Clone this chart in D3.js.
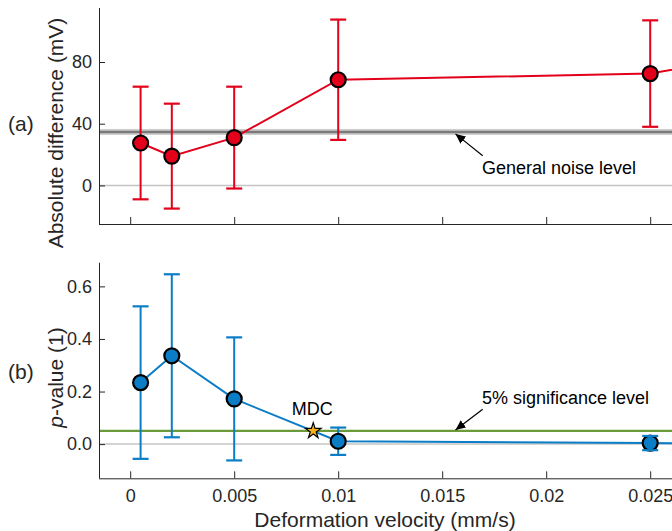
<!DOCTYPE html>
<html>
<head>
<meta charset="utf-8">
<script src="https://cdn.jsdelivr.net/npm/d3@7"></script>
<style>
  html, body { margin: 0; padding: 0; background: #fff; }
  svg { display: block; font-family: "Liberation Sans", Arial, Helvetica, sans-serif; }
  .axis path, .axis line { stroke: #262626; stroke-width: 1; }
  .axis text { fill: #262626; font-size: 18px; }
</style>
</head>
<body>
<div id="chart"></div>
<script>
  // Deformation velocity (mm/s); the last point sits just past the visible edge
  const velocity = [0.0005, 0.002, 0.005, 0.01, 0.025, 0.03];
  // (a) absolute difference (mV) with error half-widths
  const absDiff = [27.5, 19, 31, 68.5, 72.5, 84];
  const absErr = [36.5, 34, 33, 39, 34.5, 34];
  // (b) p-value with error half-widths
  const pValue = [0.234, 0.336, 0.172, 0.011, 0.004, 0.002];
  const pErr = [0.29, 0.31, 0.234, 0.052, 0.027, 0.02];

  const xTicks = [0, 0.005, 0.01, 0.015, 0.02, 0.025];
  const absTicks = [0, 40, 80];
  const pTicks = [0, 0.2, 0.4, 0.6];

  const noiseLevel = 34.7;
  const noiseBand = [32.7, 36.6];
  const significance = 0.05;
  const mdc = { v: 0.0088, p: 0.05 };

  const W = 672, H = 531;
  const ink = '#262626';
  const red = '#e2001a';
  const blue = '#0b7cc6';
  const green = '#6b9a3b';

  const svg = d3.select('#chart').append('svg')
    .attr('width', W).attr('height', H);

  const x = d3.scaleLinear().domain([-0.0015, 0.032]).range([99, 795.8]);
  const xFmt = (d) => (d === 0 ? '0' : String(+d.toFixed(3)));

  function panel(opts) {
    const y = d3.scaleLinear().domain(opts.yDomain).range(opts.yRange);
    const g = svg.append('g');
    const [yb, yt] = opts.yRange;

    // zero reference line
    g.append('line')
      .attr('x1', x.range()[0]).attr('x2', x.range()[1])
      .attr('y1', y(0)).attr('y2', y(0))
      .attr('stroke', '#c4c4c4').attr('stroke-width', 1.5);

    if (opts.before) opts.before(g, y);

    // axes, ticks pointing inward
    g.append('g').attr('class', 'axis')
      .attr('transform', `translate(0,${yb})`)
      .call(d3.axisBottom(x).tickValues(xTicks).tickSize(-7).tickPadding(11)
        .tickFormat(opts.xLabels ? xFmt : () => ''))
      .call((a) => a.select('.domain').attr('d', `M${x.range()[0]},0.5H${W + 50}`));

    g.append('g').attr('class', 'axis')
      .attr('transform', `translate(${x.range()[0]},0)`)
      .call(d3.axisLeft(y).tickValues(opts.yTicks).tickSize(-6).tickPadding(7)
        .tickFormat(opts.yFmt))
      .call((a) => a.select('.domain').attr('d', `M0.5,${yt}V${yb}`));

    const color = opts.color;
    const vals = opts.values, errs = opts.errors;

    // error bar stems
    g.append('g').selectAll('line').data(velocity).join('line')
      .attr('x1', (d) => x(d)).attr('x2', (d) => x(d))
      .attr('y1', (d, i) => y(vals[i] + errs[i]))
      .attr('y2', (d, i) => y(vals[i] - errs[i]))
      .attr('stroke', color).attr('stroke-width', 2);

    // connecting line
    g.append('path')
      .datum(velocity)
      .attr('d', d3.line().x((d) => x(d)).y((d, i) => y(vals[i])))
      .attr('fill', 'none').attr('stroke', color).attr('stroke-width', 2);

    if (opts.after) opts.after(g, y);

    // markers
    g.append('g').selectAll('circle').data(velocity).join('circle')
      .attr('cx', (d) => x(d)).attr('cy', (d, i) => y(vals[i]))
      .attr('r', 7.5)
      .attr('fill', color).attr('stroke', '#000').attr('stroke-width', 2.2);

    // error bar caps
    const caps = g.append('g');
    ['+', '-'].forEach((s) => {
      caps.append('g').selectAll('line').data(velocity).join('line')
        .attr('x1', (d) => x(d) - 8).attr('x2', (d) => x(d) + 8)
        .attr('y1', (d, i) => y(s === '+' ? vals[i] + errs[i] : vals[i] - errs[i]))
        .attr('y2', (d, i) => y(s === '+' ? vals[i] + errs[i] : vals[i] - errs[i]))
        .attr('stroke', color).attr('stroke-width', 2.2);
    });

    // y label
    const ly = (yt + yb) / 2 + opts.labelShift;
    const lab = svg.append('text')
      .attr('transform', `translate(63,${ly}) rotate(-90)`)
      .attr('text-anchor', 'middle')
      .attr('fill', ink).attr('font-size', 21);
    opts.label(lab);

    svg.append('text')
      .attr('x', 8).attr('y', opts.tagY)
      .attr('fill', ink).attr('font-size', 21)
      .text(opts.tag);

    return y;
  }

  // arrowhead
  svg.append('defs').append('marker')
    .attr('id', 'arrow').attr('viewBox', '0 -5 10 10')
    .attr('refX', 10).attr('refY', 0)
    .attr('markerWidth', 10).attr('markerHeight', 10)
    .attr('markerUnits', 'userSpaceOnUse')
    .attr('orient', 'auto')
    .append('path').attr('d', 'M0,-4.5L10,0L0,4.5Z').attr('fill', '#000');

  // (a) absolute difference
  panel({
    yDomain: [-25, 115], yRange: [224, 8],
    yTicks: absTicks, yFmt: d3.format('d'),
    values: absDiff, errors: absErr, color: red,
    xLabels: false, tag: '(a)', tagY: 131, labelShift: 17,
    label: (t) => t.text('Absolute difference (mV)'),
    before: (g, y) => {
      g.append('rect')
        .attr('x', x.range()[0]).attr('width', W)
        .attr('y', y(noiseBand[1])).attr('height', y(noiseBand[0]) - y(noiseBand[1]))
        .attr('fill', '#cfcfcf');
      g.append('line')
        .attr('x1', x.range()[0]).attr('x2', W + 50)
        .attr('y1', y(noiseLevel)).attr('y2', y(noiseLevel))
        .attr('stroke', '#7a7a7a').attr('stroke-width', 2.5);
    },
    after: (g, y) => {
      g.append('line')
        .attr('x1', 482.7).attr('y1', 155.7)
        .attr('x2', 455.5).attr('y2', y(noiseLevel) + 2)
        .attr('stroke', '#000').attr('stroke-width', 1.2)
        .attr('marker-end', 'url(#arrow)');
      g.append('text')
        .attr('x', 482).attr('y', 173.5)
        .attr('fill', '#000').attr('font-size', 18)
        .text('General noise level');
    }
  });

  // (b) p-value
  panel({
    yDomain: [-0.13, 0.69], yRange: [478.3, 262.7],
    yTicks: pTicks, yFmt: d3.format('.1f'),
    values: pValue, errors: pErr, color: blue,
    xLabels: true, tag: '(b)', tagY: 379, labelShift: 7,
    label: (t) => {
      t.append('tspan').attr('font-style', 'italic').text('p');
      t.append('tspan').text('-value (1)');
    },
    before: (g, y) => {
      g.append('line')
        .attr('x1', x.range()[0]).attr('x2', W + 50)
        .attr('y1', y(significance)).attr('y2', y(significance))
        .attr('stroke', green).attr('stroke-width', 2.2);
    },
    after: (g, y) => {
      g.append('path')
        .attr('transform', `translate(${x(mdc.v)},${y(mdc.p)})`)
        .attr('d', d3.symbol(d3.symbolStar, 75)())
        .attr('fill', '#f6b21b').attr('stroke', '#000').attr('stroke-width', 1.2);
      g.append('text')
        .attr('x', x(mdc.v) - 1).attr('y', 415)
        .attr('text-anchor', 'middle')
        .attr('fill', '#000').attr('font-size', 18)
        .text('MDC');
      g.append('line')
        .attr('x1', 482.7).attr('y1', 409.3)
        .attr('x2', 455.5).attr('y2', y(significance) - 1)
        .attr('stroke', '#000').attr('stroke-width', 1.2)
        .attr('marker-end', 'url(#arrow)');
      g.append('text')
        .attr('x', 482).attr('y', 403.5)
        .attr('fill', '#000').attr('font-size', 18)
        .text('5% significance level');
    }
  });

  // shared x label
  svg.append('text')
    .attr('x', 385).attr('y', 527)
    .attr('text-anchor', 'middle')
    .attr('fill', ink).attr('font-size', 21)
    .text('Deformation velocity (mm/s)');
</script>
</body>
</html>
